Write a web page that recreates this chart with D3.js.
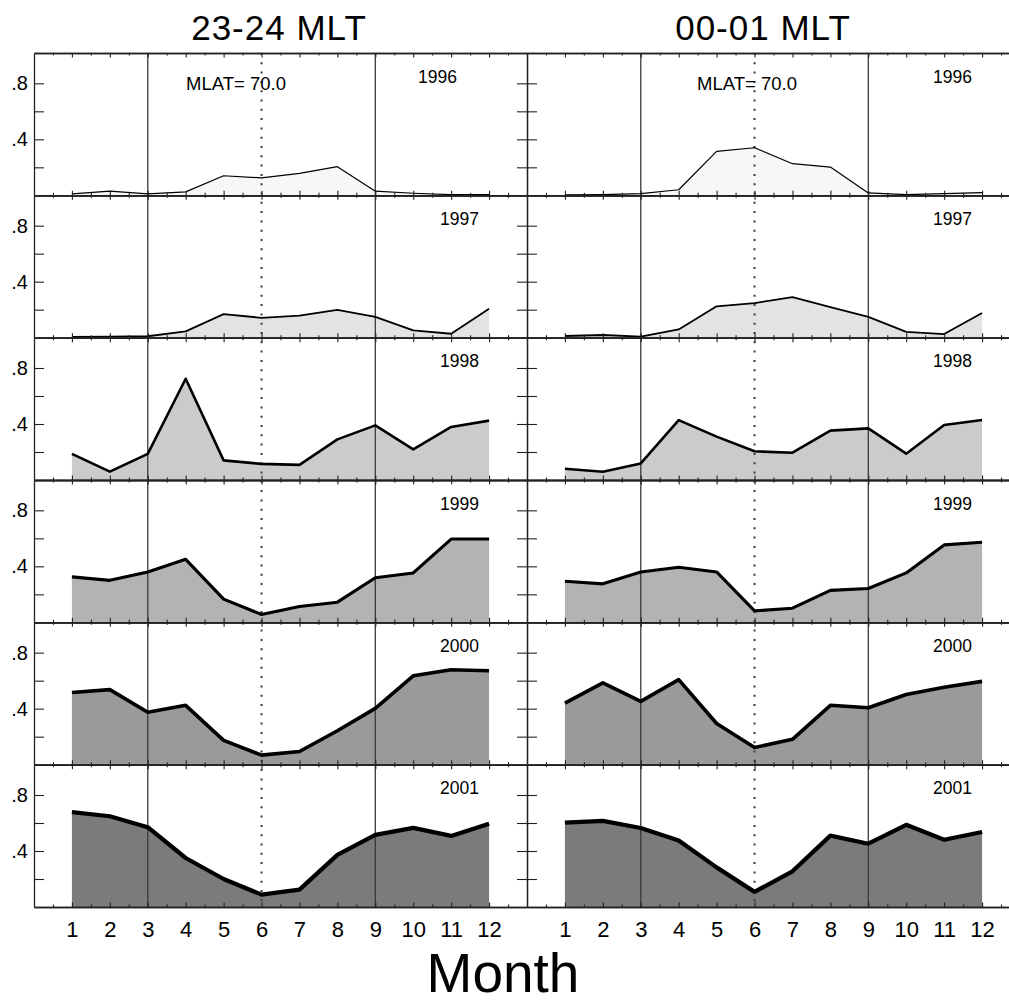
<!DOCTYPE html>
<html>
<head>
<meta charset="utf-8">
<script src="https://cdn.jsdelivr.net/npm/d3@7"></script>
<style>
  body { margin: 0; background: #fff; }
  svg { display: block; font-family: "Liberation Sans", Arial, sans-serif; }
</style>
</head>
<body>
<svg width="1009" height="1006"></svg>
<script>
// ---- data ----
const months = [1, 2, 3, 4, 5, 6, 7, 8, 9, 10, 11, 12];
const years = ["1996", "1997", "1998", "1999", "2000", "2001"];
const sectors = ["23-24 MLT", "00-01 MLT"];
const mlatLabel = "MLAT= 70.0";
const yTickLabels = { 0.4: ".4", 0.8: ".8" };

const mlt2324 = [
  [0.01, 0.03, 0.01, 0.025, 0.14, 0.125, 0.157, 0.205, 0.03, 0.015, 0.005, 0.005],
  [0.005, 0.007, 0.01, 0.045, 0.168, 0.142, 0.158, 0.198, 0.148, 0.052, 0.028, 0.207],
  [0.187, 0.06, 0.187, 0.723, 0.14, 0.115, 0.108, 0.29, 0.39, 0.219, 0.379, 0.424],
  [0.325, 0.3, 0.36, 0.45, 0.166, 0.056, 0.113, 0.144, 0.318, 0.353, 0.595, 0.595],
  [0.516, 0.536, 0.374, 0.424, 0.174, 0.068, 0.094, 0.242, 0.402, 0.635, 0.678, 0.671],
  [0.678, 0.648, 0.57, 0.35, 0.2, 0.088, 0.124, 0.372, 0.515, 0.565, 0.508, 0.594]
];
const mlt0001 = [
  [0.003, 0.005, 0.012, 0.04, 0.314, 0.34, 0.226, 0.202, 0.017, 0.005, 0.012, 0.02],
  [0.012, 0.019, 0.007, 0.059, 0.224, 0.247, 0.29, 0.219, 0.148, 0.042, 0.026, 0.176],
  [0.08, 0.059, 0.118, 0.428, 0.31, 0.205, 0.195, 0.353, 0.369, 0.188, 0.393, 0.428],
  [0.294, 0.275, 0.36, 0.393, 0.36, 0.082, 0.101, 0.228, 0.242, 0.353, 0.553, 0.572],
  [0.44, 0.584, 0.452, 0.607, 0.294, 0.122, 0.181, 0.424, 0.407, 0.501, 0.553, 0.595],
  [0.603, 0.615, 0.564, 0.475, 0.283, 0.108, 0.255, 0.51, 0.452, 0.587, 0.48, 0.536]
];
const columns = [mlt2324, mlt0001];

// ---- styles ----
const fills = ["#f7f7f7", "#e3e3e3", "#cbcbcb", "#b3b3b3", "#9a9a9a", "#7b7b7b"];
const lineWidths = [1.2, 1.8, 2.6, 3.1, 3.6, 4.2];

const svg = d3.select("svg"),
  plotTop = 53,
  plotBottom = 907,
  panelW = 493,
  colX = [34, 527],
  rowH = (plotBottom - plotTop) / years.length,
  yMax = rowH / 140;

const x = colX.map((x0) => d3.scaleLinear().domain([0, 13]).range([x0, x0 + panelW]));
const yScales = years.map((_, i) =>
  d3.scaleLinear().domain([0, yMax]).range([plotTop + (i + 1) * rowH, plotTop + i * rowH])
);

const area = (xs, ys) =>
  d3.area().x((d, i) => xs(months[i])).y0(ys(0)).y1((d) => ys(d));
const line = (xs, ys) =>
  d3.line().x((d, i) => xs(months[i])).y((d) => ys(d));

columns.forEach((col, c) => {
  const xs = x[c];
  const g = svg.append("g");

  // filled areas
  col.forEach((vals, r) => {
    g.append("path")
      .datum(vals)
      .attr("fill", fills[r])
      .attr("d", area(xs, yScales[r]));
  });

  // reference month lines
  [3, 9].forEach((m) => {
    g.append("line")
      .attr("x1", xs(m)).attr("x2", xs(m))
      .attr("y1", plotTop).attr("y2", plotBottom)
      .attr("stroke", "#3a3a3a").attr("stroke-width", 1.3);
  });
  g.append("line")
    .attr("x1", xs(6)).attr("x2", xs(6))
    .attr("y1", plotTop).attr("y2", plotBottom)
    .attr("stroke", "#3a3a3a").attr("stroke-width", 2)
    .attr("stroke-dasharray", "2,7.3");

  // curves
  col.forEach((vals, r) => {
    g.append("path")
      .datum(vals)
      .attr("fill", "none")
      .attr("stroke", "#000")
      .attr("stroke-width", lineWidths[r])
      .attr("stroke-linejoin", "round")
      .attr("d", line(xs, yScales[r]));
  });

  // axes for each panel
  const minor = d3.range(0.5, 13, 1);
  yScales.forEach((ys, r) => {
    const y0 = ys(0), y1 = ys(yMax);
    const ax = g.append("g").attr("class", "axes");

    ax.append("g")
      .attr("class", "xaxis")
      .attr("transform", `translate(0,${y0})`)
      .call(d3.axisBottom(xs).tickValues(months).tickSize(-4.5).tickSizeOuter(0)
        .tickPadding(14.5).tickFormat(r === years.length - 1 ? d3.format("d") : ""));
    ax.append("g")
      .attr("transform", `translate(0,${y0})`)
      .call(d3.axisBottom(xs).tickValues(minor).tickSize(-2.5).tickSizeOuter(0).tickFormat(""));
    ax.append("g")
      .attr("transform", `translate(0,${y1})`)
      .call(d3.axisTop(xs).tickValues(months).tickSize(-4.5).tickSizeOuter(0).tickFormat(""));
    ax.append("g")
      .attr("transform", `translate(0,${y1})`)
      .call(d3.axisTop(xs).tickValues(minor).tickSize(-2.5).tickSizeOuter(0).tickFormat(""));

    ax.append("g")
      .attr("class", "yaxis")
      .attr("transform", `translate(${xs(0)},0)`)
      .call(d3.axisLeft(ys).tickValues([0.2, 0.4, 0.6, 0.8]).tickSize(-10).tickSizeOuter(0)
        .tickPadding(6).tickFormat((d) => (c === 0 ? yTickLabels[d] || "" : "")));
    ax.append("g")
      .attr("transform", `translate(${xs(13)},0)`)
      .call(d3.axisRight(ys).tickValues([0.2, 0.4, 0.6, 0.8]).tickSize(-10).tickSizeOuter(0)
        .tickFormat(""));

    // year label
    g.append("text")
      .attr("x", xs(13) - (c === 0 && r === 0 ? 70 : 48))
      .attr("y", y1 + 29.5)
      .attr("text-anchor", "end")
      .style("font-size", "17.5px")
      .text(years[r]);
  });

  g.selectAll(".axes path.domain").attr("stroke", "#222").attr("stroke-width", 1.3);
  g.selectAll(".axes .tick line").attr("stroke", "#222").attr("stroke-width", 1.1);
  g.selectAll(".axes .tick text").attr("fill", "#000")
    .style("font-family", "'Liberation Sans', Arial, sans-serif");
  g.selectAll(".xaxis .tick text").style("font-size", "22px");
  g.selectAll(".yaxis .tick text").style("font-size", "20px");

  // MLAT label in top panel
  g.append("text")
    .attr("x", xs(0) + (c === 0 ? 152 : 170))
    .attr("y", 90)
    .style("font-size", "18.5px")
    .text(mlatLabel);

  // column title
  g.append("text")
    .attr("x", c === 0 ? 279 : 763)
    .attr("y", 40)
    .attr("text-anchor", "middle")
    .style("font-size", "35px")
    .style("letter-spacing", "1px")
    .text(sectors[c]);
});

svg.append("text")
  .attr("x", 503)
  .attr("y", 992)
  .attr("text-anchor", "middle")
  .style("font-size", "55px")
  .text("Month");
</script>
</body>
</html>
